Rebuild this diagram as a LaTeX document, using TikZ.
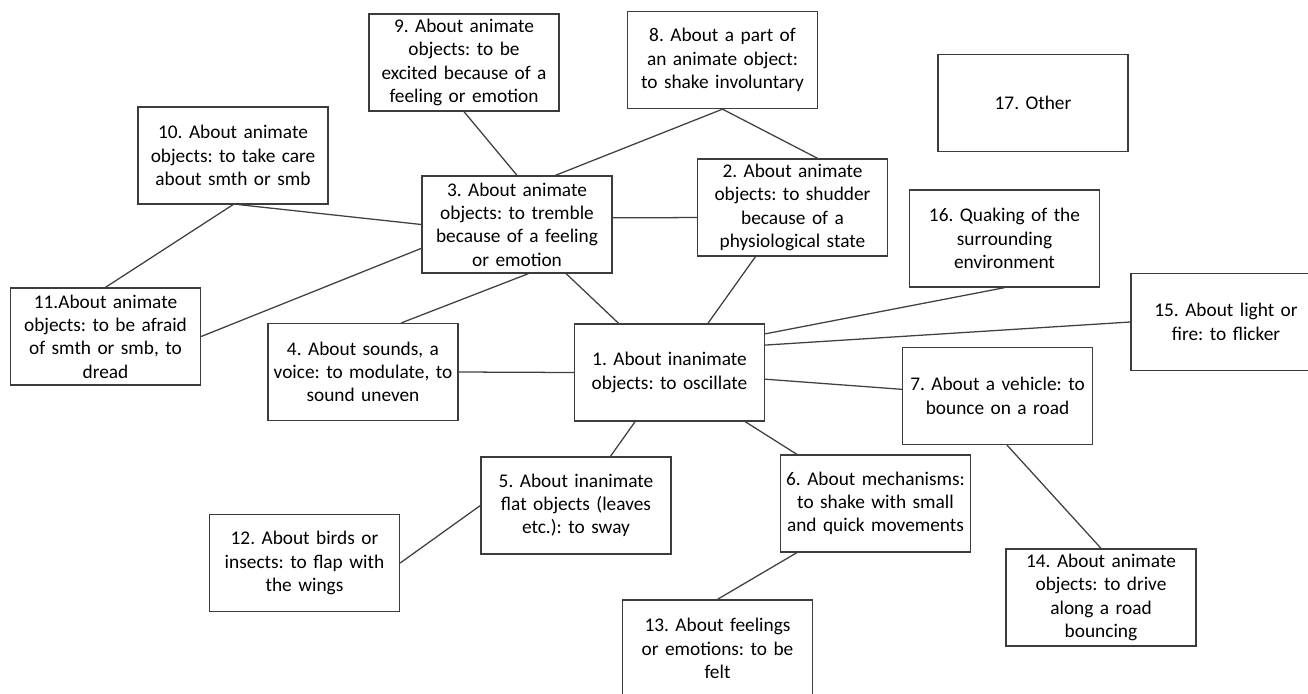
\documentclass[tikz,border=0pt]{standalone}
\usepackage{fontspec}
\setmainfont{Carlito}
\usetikzlibrary{positioning}

\definecolor{boxgray}{HTML}{3C3C3C}
\definecolor{linegray}{HTML}{404040}

\tikzset{
  box/.style={draw=boxgray, line width=1pt, fill=white, text width=136pt,
    inner xsep=3.25pt, inner ysep=1pt, minimum height=72.75pt, align=center,
    font=\fontsize{14.5}{17.5}\selectfont\frenchspacing},
  link/.style={draw=linegray, line width=0.95pt}
}

\begin{document}
\begin{tikzpicture}[x=0.75pt, y=-0.75pt, every edge/.style={link}]
		\useasboundingbox[fill=white] (0,0) rectangle (1308,693);
		% Nodes
		\node[box] (b1)  at (669.5,372.5) {1. About inanimate\\ objects: to oscillate};
		\node[box] (b2)  at (792.5,207.5) {2. About animate\\ objects: to shudder\\ because of a\\ physiological state};
		\node[box] (b3)  at (517,224.5)   {3. About animate\\ objects: to tremble\\ because of a feeling\\ or emotion};
		\node[box] (b4)  at (363,372)     {4. About sounds, a\\ voice: to modulate, to\\ sound uneven};
		\node[box] (b5)  at (576,505.5)   {5. About inanimate\\ flat objects (leaves\\ etc.): to sway};
		\node[box] (b6)  at (875.5,503.5) {6. About mechanisms:\\ to shake with small\\ and quick movements};
		\node[box] (b7)  at (997.5,396)   {7. About a vehicle: to\\ bounce on a road};
		\node[box] (b8)  at (722.5,60)    {8. About a part of\\ an animate object:\\ to shake involuntary};
		\node[box] (b9)  at (464,62.5)    {9. About animate\\ objects: to be\\ excited because of a\\ feeling or emotion};
		\node[box] (b10) at (233,155.5)   {10. About animate\\ objects: to take care\\ about smth or smb};
		\node[box] (b11) at (105.5,336.5) {11.About animate\\ objects: to be afraid\\ of smth or smb, to\\ dread};
		\node[box] (b12) at (304.5,563)   {12. About birds or\\ insects: to flap with\\ the wings};
		\node[box] (b13) at (717.5,648.5) {13. About feelings\\ or emotions: to be\\ felt};
		\node[box] (b14) at (1101,597.5)  {14. About animate\\ objects: to drive\\ along a road\\ bouncing};
		\node[box] (b15) at (1226,322)    {15. About light or\\ fire: to flicker};
		\node[box] (b16) at (1004.5,238.5) {16. Quaking of the\\ surrounding\\ environment};
		\node[box] (b17) at (1033,103)    {17. Other};
		%Lines
		\path
		(b9.south) edge (b3.north)
		(b8.south) edge (b3.52)
		(b8.south) edge (b2.63)
		(b3.4) edge (b2.186)
		(b10.277) edge (b3.west)
		(b10.south) edge (b11.north)
		(b11.east) edge (b3.194)
		(b3.283) edge (b4.52)
		(b3.315) edge (b1.136)
		(b4.east) edge (b1.west)
		(b2.233) edge (b1.52)
		(b16.south) edge (b1.22)
		(b15.west) edge (b1.16)
		(b1.-4) edge (b7.176)
		(b1.235) edge (b5.55)
		(b1.327) edge (b6.148)
		(b5.west) edge (b12.east)
		(b6.212) edge (b13.north)
		(b7.281) edge (b14.north)
		;
	\end{tikzpicture}
\end{document}
